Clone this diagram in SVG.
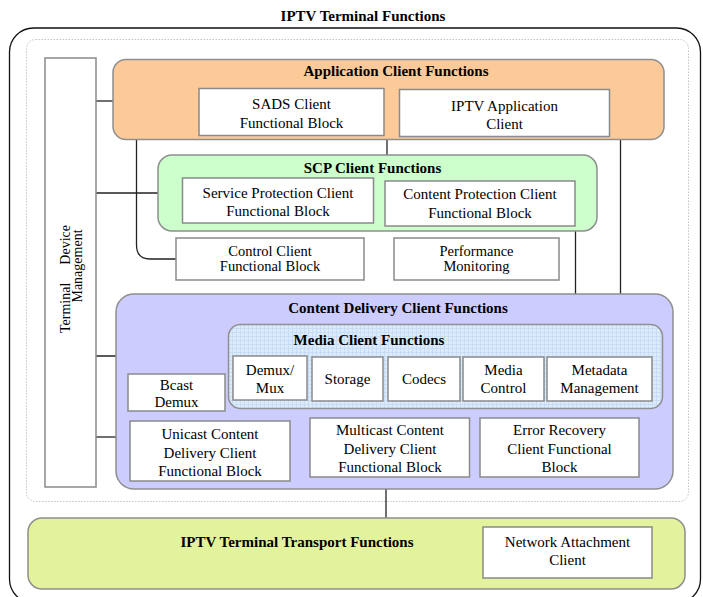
<svg xmlns="http://www.w3.org/2000/svg" width="703" height="597" viewBox="0 0 703 597" font-family="'Liberation Serif', 'Times New Roman', Times, serif">
<defs>
<pattern id="grid" width="4" height="4" patternUnits="userSpaceOnUse">
<rect width="4" height="4" fill="#DCEBFC"/>
<path d="M0,0.5 H4 M0.5,0 V4" stroke="#C4DBF3" stroke-width="0.8" fill="none"/>
</pattern>
</defs>
<style>
text{fill:#000;}
.t{font-size:15px;text-anchor:middle;}
.s{font-size:14.5px;text-anchor:middle;}
.h{font-size:15px;font-weight:bold;text-anchor:middle;}
.box{fill:#fff;stroke:#8a8a8a;stroke-width:1.5;}
.grp{stroke:#8f8f8f;stroke-width:1.5;}
.ln{stroke:#222;stroke-width:1.3;fill:none;}
</style>
<rect width="703" height="597" fill="#fff"/>
<text class="h" x="363" y="21">IPTV Terminal Functions</text>
<rect id="outer" x="9.5" y="28" width="691" height="575" rx="24" ry="24" fill="none" stroke="#111" stroke-width="1.3"/>
<rect id="dotted" x="26.5" y="39.5" width="662" height="462" rx="9" fill="none" stroke="#c4c4c4" stroke-width="1" stroke-dasharray="1.5,1.5"/>

<g id="connectors">
<path class="ln" d="M96,101 H113"/>
<path class="ln" d="M96,193 H158"/>
<path class="ln" d="M96,356 H229"/>
<path class="ln" d="M96,437 H116"/>
<path class="ln" d="M136.5,140 V245 Q136.5,259 150,259 H176"/>
<path class="ln" d="M387,140 V155"/>
<path class="ln" d="M620.5,140 V325"/>
<path class="ln" d="M575.5,231 V294"/>
<path class="ln" d="M386,489 V518"/>
</g>

<g id="tdm">
<rect class="box" x="45" y="58" width="51" height="429"/>
<text style="font-size:14px" transform="rotate(-90)" x="-333" y="70">Terminal</text>
<text style="font-size:14px;text-anchor:end" transform="rotate(-90)" x="-225" y="70">Device</text>
<text style="font-size:14px;text-anchor:middle" transform="rotate(-90)" x="-266" y="81.5">Management</text>
</g>

<g id="app">
<rect class="grp" x="113" y="59.5" width="551" height="80" rx="13" fill="#FBCA98"/>
<text class="h" x="396" y="76">Application Client Functions</text>
</g>
<g id="sads">
<rect class="box" x="199" y="88.5" width="185" height="47"/>
<text class="t" x="291.5" y="109">SADS Client</text>
<text class="t" x="291.5" y="127.5">Functional Block</text>
</g>
<g id="iptvapp">
<rect class="box" x="399.5" y="89.5" width="210" height="47"/>
<text class="t" x="504.5" y="111">IPTV Application</text>
<text class="t" x="504.5" y="129">Client</text>
</g>

<g id="scp">
<rect class="grp" x="158" y="155" width="439" height="76" rx="14" fill="#CCFFCC"/>
<text class="h" x="372.5" y="173">SCP Client Functions</text>
</g>
<g id="svcprot">
<rect class="box" x="182.5" y="178" width="191" height="45"/>
<text class="t" x="278" y="198">Service Protection Client</text>
<text class="t" x="278" y="216">Functional Block</text>
</g>
<g id="cntprot">
<rect class="box" x="385" y="181" width="190" height="45"/>
<text class="t" x="480" y="199">Content Protection Client</text>
<text class="t" x="480" y="217.5">Functional Block</text>
</g>

<g id="control">
<rect class="box" x="176" y="238" width="188" height="42"/>
<text class="s" x="270" y="256">Control Client</text>
<text class="s" x="270" y="270.5">Functional Block</text>
</g>
<g id="perf">
<rect class="box" x="394" y="238" width="165" height="42"/>
<text class="s" x="476.5" y="256">Performance</text>
<text class="s" x="476.5" y="270.5">Monitoring</text>
</g>

<g id="cd">
<rect class="grp" x="116" y="294" width="557" height="195" rx="18" fill="#CCCCFF"/>
<text class="h" x="398" y="313">Content Delivery Client Functions</text>
</g>
<g id="media">
<rect class="grp" x="228.5" y="324.5" width="434" height="84" rx="12" fill="url(#grid)"/>
<text class="h" x="369" y="345">Media Client Functions</text>
</g>
<g id="demux">
<rect class="box" x="233" y="356" width="74" height="44"/>
<text class="t" x="270" y="375">Demux/</text>
<text class="t" x="270" y="393">Mux</text>
</g>
<g id="storage">
<rect class="box" x="312" y="357" width="71" height="44"/>
<text class="t" x="347.5" y="384">Storage</text>
</g>
<g id="codecs">
<rect class="box" x="388" y="357" width="72" height="44"/>
<text class="t" x="424" y="384">Codecs</text>
</g>
<g id="mediactl">
<rect class="box" x="463" y="357" width="81" height="44"/>
<text class="t" x="503.5" y="375">Media</text>
<text class="t" x="503.5" y="393">Control</text>
</g>
<g id="metadata">
<rect class="box" x="547" y="357" width="105" height="44"/>
<text class="t" x="599.5" y="375">Metadata</text>
<text class="t" x="599.5" y="393">Management</text>
</g>
<g id="bcast">
<rect class="box" x="128" y="374" width="97" height="37"/>
<text class="t" x="176.5" y="389.5">Bcast</text>
<text class="t" x="176.5" y="407">Demux</text>
</g>
<g id="unicast">
<rect class="box" x="130" y="421" width="160" height="60"/>
<text class="t" x="210" y="439">Unicast Content</text>
<text class="t" x="210" y="457.5">Delivery Client</text>
<text class="t" x="210" y="476">Functional Block</text>
</g>
<g id="multicast">
<rect class="box" x="310" y="418" width="159.5" height="59"/>
<text class="t" x="390" y="435">Multicast Content</text>
<text class="t" x="390" y="453.5">Delivery Client</text>
<text class="t" x="390" y="472">Functional Block</text>
</g>
<g id="errrec">
<rect class="box" x="480" y="418" width="159" height="59"/>
<text class="t" x="559.5" y="435">Error Recovery</text>
<text class="t" x="559.5" y="453.5">Client Functional</text>
<text class="t" x="559.5" y="472">Block</text>
</g>

<g id="transport">
<rect class="grp" x="28" y="518" width="657" height="71" rx="14" fill="#E3F29C"/>
<text class="h" x="297" y="547">IPTV Terminal Transport Functions</text>
</g>
<g id="netattach">
<rect class="box" x="483" y="527" width="169" height="51"/>
<text class="t" x="567.5" y="547">Network Attachment</text>
<text class="t" x="567.5" y="565">Client</text>
</g>
</svg>
